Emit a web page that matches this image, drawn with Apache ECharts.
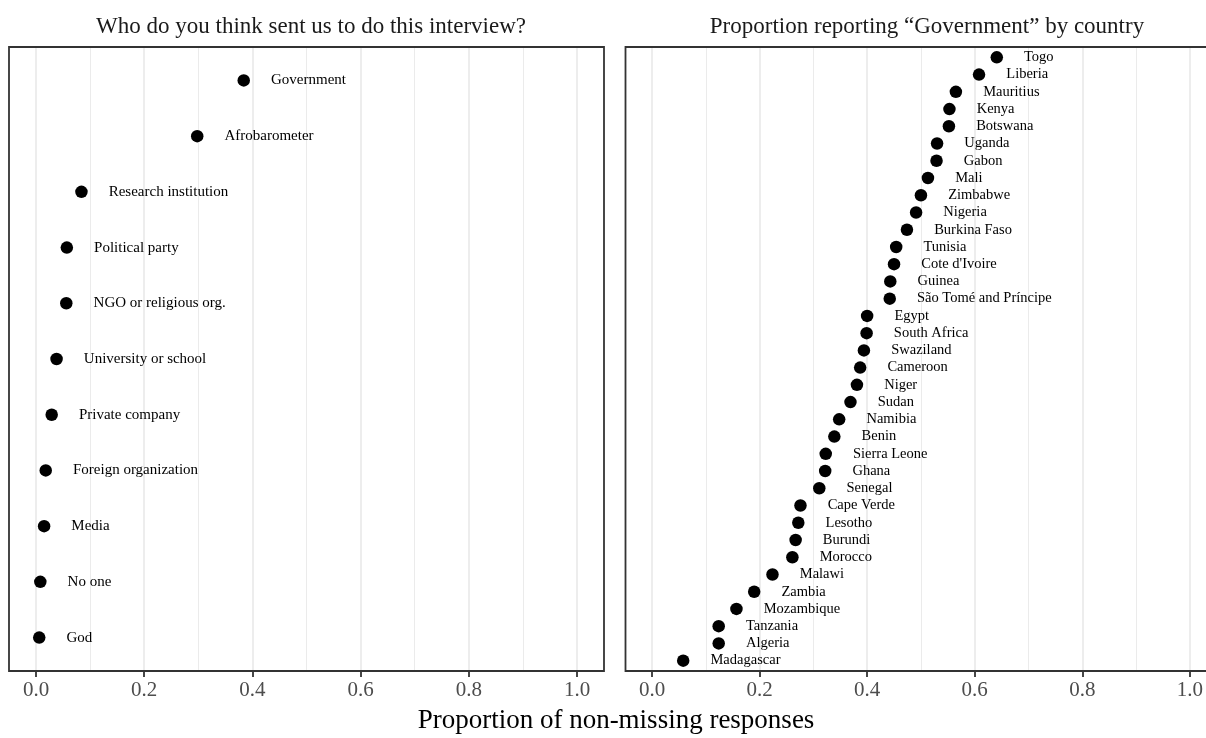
<!DOCTYPE html>
<html>
<head>
<meta charset="utf-8">
<script src="https://cdn.jsdelivr.net/npm/echarts@6.0.0/dist/echarts.min.js"></script>
<style>html,body{margin:0;padding:0;background:#fff;}#c{width:1206px;height:738px;}</style>
</head>
<body>
<div id="c"></div>
<script>
const sourceCategories = ['Government','Afrobarometer','Research institution','Political party','NGO or religious org.','University or school','Private company','Foreign organization','Media','No one','God'];
const sourceValues = [0.384,0.298,0.084,0.057,0.056,0.038,0.029,0.018,0.015,0.008,0.006];
const countries = ['Togo','Liberia','Mauritius','Kenya','Botswana','Uganda','Gabon','Mali','Zimbabwe','Nigeria','Burkina Faso','Tunisia',"Cote d'Ivoire",'Guinea','São Tomé and Príncipe','Egypt','South Africa','Swaziland','Cameroon','Niger','Sudan','Namibia','Benin','Sierra Leone','Ghana','Senegal','Cape Verde','Lesotho','Burundi','Morocco','Malawi','Zambia','Mozambique','Tanzania','Algeria','Madagascar'];
const countryValues = [0.641,0.608,0.565,0.553,0.552,0.530,0.529,0.513,0.500,0.491,0.474,0.454,0.450,0.443,0.442,0.400,0.399,0.394,0.387,0.381,0.369,0.348,0.339,0.323,0.322,0.311,0.276,0.272,0.267,0.261,0.224,0.190,0.157,0.124,0.124,0.058];
const xTicks = [0,0.2,0.4,0.6,0.8,1.0];
const leftTitle = 'Who do you think sent us to do this interview?';
const rightTitle = 'Proportion reporting \u201cGovernment\u201d by country';
const xTitle = 'Proportion of non-missing responses';

const FONT = '"Liberation Serif", "DejaVu Serif", serif';
const chart = echarts.init(document.getElementById('c'), null, {renderer:'canvas'});

function xAxisDef(gi){
  return {
    type:'value', gridIndex:gi, min:xTicks[0], max:xTicks[xTicks.length-1], interval:xTicks[1]-xTicks[0],
    axisLine:{show:false},
    axisTick:{show:true, length:6, lineStyle:{color:'#333', width:1.8}},
    axisLabel:{show:true, margin:9, color:'#4d4d4d', fontFamily:FONT, fontSize:21,
      formatter:v=>v.toFixed(1)},
    splitLine:{show:true, lineStyle:{color:'#ebebeb', width:1.8}},
    minorTick:{show:false, splitNumber:2},
    minorSplitLine:{show:true, lineStyle:{color:'#ebebeb', width:1}}
  };
}
function yAxisDef(gi, n){
  return {type:'value', gridIndex:gi, min:0.4, max:n+0.6, inverse:true,
    axisLine:{show:false}, axisTick:{show:false}, axisLabel:{show:false}, splitLine:{show:false}};
}

const leftData = sourceCategories.map((c,i)=>({value:[sourceValues[i], i+1], name:c}));
const rightData = countries.map((c,i)=>({value:[countryValues[i], i+1], name:c}));

const option = {
  animation:false,
  backgroundColor:'#fff',
  title:[
    {text:leftTitle, left:306, top:10, textAlign:'center',
      textStyle:{fontFamily:FONT, fontWeight:'normal', fontSize:23, color:'#1a1a1a'}},
    {text:rightTitle, left:922, top:10, textAlign:'center',
      textStyle:{fontFamily:FONT, fontWeight:'normal', fontSize:23, color:'#1a1a1a'}}
  ],
  grid:[
    {left:36, right:629, top:47, bottom:67},
    {left:652, right:13, top:47, bottom:67}
  ],
  xAxis:[xAxisDef(0), xAxisDef(1)],
  yAxis:[yAxisDef(0, sourceCategories.length), yAxisDef(1, countries.length)],
  series:[
    {type:'scatter', xAxisIndex:0, yAxisIndex:0, data:leftData, symbolSize:12.5,
      itemStyle:{color:'#000', opacity:1}, clip:false,
      label:{show:true, position:'right', distance:21, formatter:p=>p.name,
        fontFamily:FONT, fontSize:15, color:'#000'}},
    {type:'scatter', xAxisIndex:1, yAxisIndex:1, data:rightData, symbolSize:12.5,
      itemStyle:{color:'#000', opacity:1}, clip:false,
      label:{show:true, position:'right', distance:21, formatter:p=>p.name,
        fontFamily:FONT, fontSize:14.5, color:'#000'}}
  ],
  graphic:[
    {type:'rect', z:100, shape:{x:9, y:47, width:595, height:624},
      style:{fill:null, stroke:'#333', lineWidth:1.8}},
    {type:'rect', z:100, shape:{x:625.5, y:47, width:600, height:624},
      style:{fill:null, stroke:'#333', lineWidth:1.8}},
    {type:'text', z:100, x:616, y:721,
      style:{text:xTitle, fontFamily:FONT, fontSize:27, fill:'#000', align:'center', verticalAlign:'middle'}}
  ]
};
chart.setOption(option);
</script>
</body>
</html>
